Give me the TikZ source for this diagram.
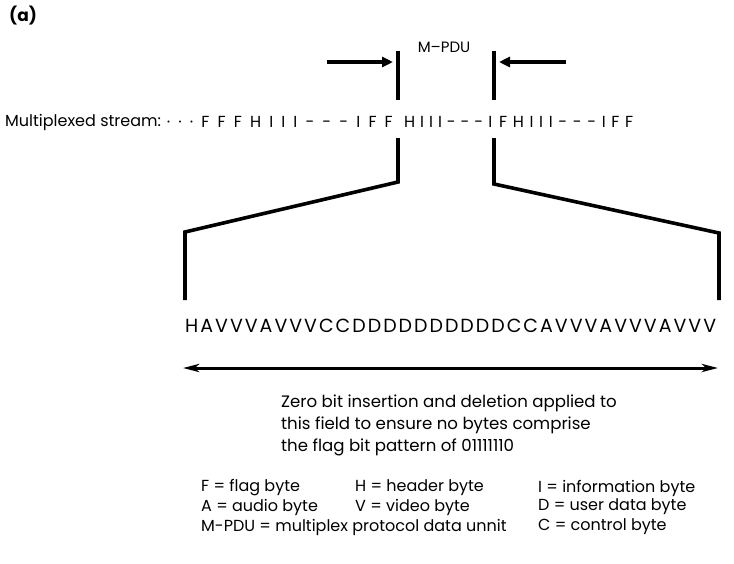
\documentclass[tikz,border=0pt]{standalone}
\usepackage{fontspec}
\setmainfont{Poppins}
\usetikzlibrary{arrows.meta}
\def\spreadloop#1{\ifx#1\relax\else#1\expandafter\spreadnext\fi}
\def\spreadnext#1{\ifx#1\relax\else\hfil#1\expandafter\spreadnext\fi}
\newcommand\spreadto[2]{\hbox to #1{\spreadloop#2\relax}}
\begin{document}
\begin{tikzpicture}[x=1pt,y=-1pt,
  txt/.style={inner sep=0pt, font=\fontsize{16}{18}\selectfont},
  bar/.style={line width=3.6pt, line join=miter},
  arr/.style={line width=3.2pt, -{Triangle[length=11pt,width=10pt]}},
  darr/.style={line width=3pt, {Stealth[length=16pt,width=8pt,inset=4pt]}-{Stealth[length=16pt,width=8pt,inset=4pt]}}]
\useasboundingbox (0,0) rectangle (734,563);

\node[anchor=north west, inner sep=0pt, font=\bfseries\fontsize{17}{17}\selectfont] (lbl) at (9,6) {(a)};
\node[txt, font=\fontsize{15}{17}\selectfont] (mpdu) at (444,47) {M–PDU};

% upper bars and arrows
\coordinate (lt) at (398,51); \coordinate (lb) at (398,100);
\coordinate (rt) at (494,51); \coordinate (rb) at (494,100);
\draw[bar] (lt) -- (lb);
\draw[bar] (rt) -- (rb);
\coordinate (la0) at (327,62); \coordinate (la1) at (393,62);
\coordinate (ra0) at (566,62); \coordinate (ra1) at (499,62);
\draw[arr] (la0) -- (la1);
\draw[arr] (ra0) -- (ra1);

% multiplexed stream
\node[txt, anchor=west] (mslbl) at (5,122) {Multiplexed stream:};
\node[txt, anchor=east] (segA) at (393,122) {\spreadto{226pt}{···FFFHIII---IFF}};
\node[txt, anchor=west] (segB) at (404,122) {\spreadto{88pt}{HIII---I}};
\node[txt, anchor=west] (segC) at (499,122) {\spreadto{134pt}{FHIII---IFF}};

% lower bracket
\coordinate (l1) at (398,138); \coordinate (l2) at (398,182);
\coordinate (l3) at (185,232); \coordinate (l4) at (185,300);
\coordinate (r1) at (494,138); \coordinate (r2) at (494,184);
\coordinate (r3) at (719,233); \coordinate (r4) at (719,300);
\draw[bar] (l1) -- (l2) -- (l3) -- (l4);
\draw[bar] (r1) -- (r2) -- (r3) -- (r4);

% data field
\node[txt, anchor=west, font=\fontsize{19}{21}\selectfont] (data) at (185,326) {\spreadto{531pt}{HAVVVAVVVCCDDDDDDDDDDCCAVVVAVVVAVVV}};

% double arrow
\coordinate (d0) at (183,368); \coordinate (d1) at (718,368);
\draw[darr] (d0) -- (d1);

% explanation
\node[txt, anchor=north west, align=left, font=\fontsize{16.6}{22}\selectfont] (expl) at (281,395)
  {Zero bit insertion and deletion applied to\\this field to ensure no bytes comprise\\the flag bit pattern of 01111110};

% legend
\node[txt, anchor=west] (kF) at (201,488) {F = flag byte};
\node[txt, anchor=west] (kH) at (355,488) {H = header byte};
\node[txt, anchor=west] (kI) at (538,488) {I = information byte};
\node[txt, anchor=west] (kA) at (201,507) {A = audio byte};
\node[txt, anchor=west] (kV) at (355,507) {V = video byte};
\node[txt, anchor=west] (kD) at (538,507) {D = user data byte};
\node[txt, anchor=west] (kM) at (201,527) {M-PDU = multiplex protocol data unnit};
\node[txt, anchor=west] (kC) at (538,527) {C = control byte};
\end{tikzpicture}
\end{document}
